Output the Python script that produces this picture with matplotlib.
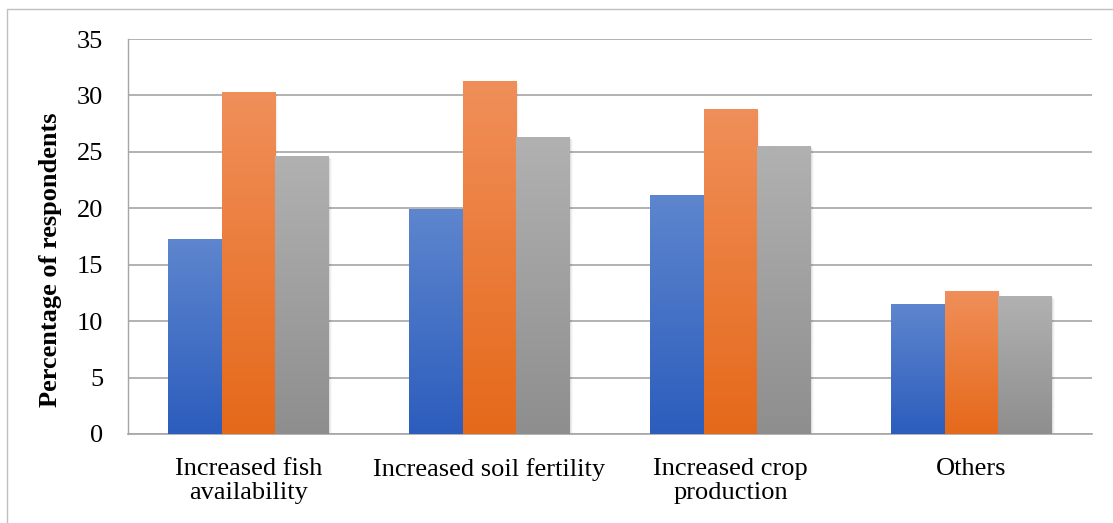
import matplotlib
matplotlib.use("Agg")
import matplotlib.pyplot as plt
import numpy as np
from matplotlib.colors import LinearSegmentedColormap
from matplotlib.patches import Rectangle

categories = ["Increased fish\navailability", "Increased soil fertility",
              "Increased crop\nproduction", "Others"]
series_a = [17.3, 19.9, 21.2, 11.5]
series_b = [30.3, 31.3, 28.8, 12.7]
series_c = [24.6, 26.3, 25.5, 12.2]
yticks = [0, 5, 10, 15, 20, 25, 30, 35]

plt.rcParams['font.family'] = ['Liberation Serif', 'DejaVu Serif']

fig = plt.figure(figsize=(11.13, 5.23), dpi=100)
ax = fig.add_axes([128/1113, 1 - 434/523, (1092-128)/1113, (434-39)/523])

# figure border
fig.add_artist(Rectangle((7/1113, -0.1), 1.2, 1 - 9/523 + 0.1, transform=fig.transFigure,
                         fill=False, edgecolor='#BFBFBF', linewidth=1.0))

x = np.arange(len(categories))
w = 0.224
grads = [("#5E86CE", "#2C5DBD"), ("#F08F5A", "#E5691A"), ("#B1B1B1", "#8E8E8E")]
for i, (vals, (top, bot)) in enumerate(zip([series_a, series_b, series_c], grads)):
    bars = ax.bar(x + (i - 1) * w, vals, width=w, color=bot, zorder=3, linewidth=0)
    cmap = LinearSegmentedColormap.from_list("g%d" % i, [bot, top])
    grad = np.linspace(0, 1, 256).reshape(-1, 1)
    for b in bars:
        bx, by, bw, bh = b.get_x(), b.get_y(), b.get_width(), b.get_height()
        for k, a in enumerate([0.06, 0.04, 0.025]):
            sh = Rectangle((bx + 0.004 * (k + 1), by), bw, bh - 0.08 * (k + 1),
                           facecolor='black', alpha=a, linewidth=0, zorder=2.5)
            ax.add_patch(sh)
        im = ax.imshow(grad, extent=[bx, bx + bw, by, by + bh], origin='lower',
                       cmap=cmap, aspect='auto', zorder=3.5, interpolation='bilinear')
        im.set_clip_path(b)

ax.set_xlim(-0.5, 3.5)
ax.set_ylim(0, 35)
ax.set_yticks(yticks)
ax.set_yticklabels([str(t) for t in yticks], fontsize=19)
ax.set_xticks(x)
ax.set_xticklabels(categories, fontsize=19, linespacing=1.12)
ax.tick_params(axis='both', length=0)
ax.tick_params(axis='x', pad=17)
ax.tick_params(axis='y', pad=18)
ax.grid(axis='y', color='#A6A6A6', linewidth=1.2, zorder=0)
ax.set_axisbelow(True)
for s in ['top', 'right']:
    ax.spines[s].set_visible(False)
ax.spines['left'].set_color('#A6A6A6')
ax.spines['bottom'].set_color('#A6A6A6')
ax.spines['left'].set_linewidth(1.0)
ax.spines['bottom'].set_linewidth(1.2)
ax.set_ylabel("Percentage of respondents", fontsize=19, fontweight='bold')
ax.yaxis.set_label_coords(-0.068, 0.44)

fig.savefig("out.png", dpi=100)
